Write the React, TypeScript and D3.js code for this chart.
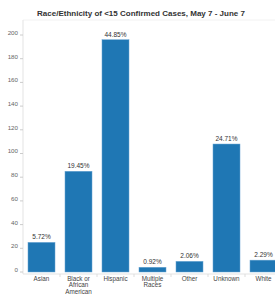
import React from 'react'
import * as d3 from 'd3'

const categories = ['Asian', 'Black or African American', 'Hispanic', 'Multiple Races', 'Other', 'Unknown', 'White']
const labelLines = [['Asian'], ['Black or', 'African', 'American'], ['Hispanic'], ['Multiple', 'Races'], ['Other'], ['Unknown'], ['White']]
const counts = [25, 85, 196, 4, 9, 108, 10]
const percents = ['5.72%', '19.45%', '44.85%', '0.92%', '2.06%', '24.71%', '2.29%']
const yTicks = [0, 20, 40, 60, 80, 100, 120, 140, 160, 180, 200]

const W = 275
const H = 294
const left = 23
const top = 20
const bottom = 272

const x = d3
  .scaleBand<string>()
  .domain(categories)
  .range([left, left + 7 * 37])
  .paddingInner(0.27)
  .paddingOuter(0.135)

const y = d3.scaleLinear().domain([0, 200]).range([bottom, 35])

const font = 'Liberation Sans, Arial, sans-serif'

const App = () => {
  const step = x.step()
  return (
    <svg
      width={W}
      height={H}
      style={{ position: 'absolute', left: 0, top: 0, background: '#fff' }}
      fontFamily={font}
    >
      <text x={141} y={16} textAnchor="middle" fontSize={8} fontWeight="bold" fill="#333">
        Race/Ethnicity of &lt;15 Confirmed Cases, May 7 - June 7
      </text>

      {/* frame lines */}
      <line x1={left} x2={W} y1={top} y2={top} stroke="#f2f2f2" />
      <line x1={left} x2={left} y1={top} y2={bottom + 2} stroke="#e3e3e3" />
      <line x1={left} x2={W} y1={bottom + 2} y2={bottom + 2} stroke="#e3e3e3" />

      {yTicks.map((t) => (
        <g key={t}>
          <line x1={left - 3} x2={left} y1={y(t)} y2={y(t)} stroke="#ccc" />
          <text x={left - 5} y={y(t) - 2} dy="0.32em" textAnchor="end" fontSize={6.2} fill="#666">
            {t}
          </text>
        </g>
      ))}

      {categories.map((c, i) => (
        <line
          key={'xt' + c}
          x1={x(c)! - (step - x.bandwidth()) / 2}
          x2={x(c)! - (step - x.bandwidth()) / 2}
          y1={bottom + 2}
          y2={bottom + 5}
          stroke="#ddd"
          opacity={i === 0 ? 0 : 1}
        />
      ))}

      {categories.map((c, i) => (
        <g key={c}>
          <rect
            x={x(c)}
            y={y(counts[i])}
            width={x.bandwidth()}
            height={bottom - y(counts[i])}
            fill="#1f77b4"
            stroke="#6aa6d3"
            strokeWidth={0.5}
          />
          <text
            x={x(c)! + x.bandwidth() / 2}
            y={y(counts[i]) - 3}
            textAnchor="middle"
            fontSize={6.5}
            fill="#333"
          >
            {percents[i]}
          </text>
          {labelLines[i].map((l, j) => (
            <text
              key={j}
              x={x(c)! + x.bandwidth() / 2}
              y={281 + j * 6.3}
              textAnchor="middle"
              fontSize={6.3}
              fill="#444"
            >
              {l}
            </text>
          ))}
        </g>
      ))}
    </svg>
  )
}

export default App
